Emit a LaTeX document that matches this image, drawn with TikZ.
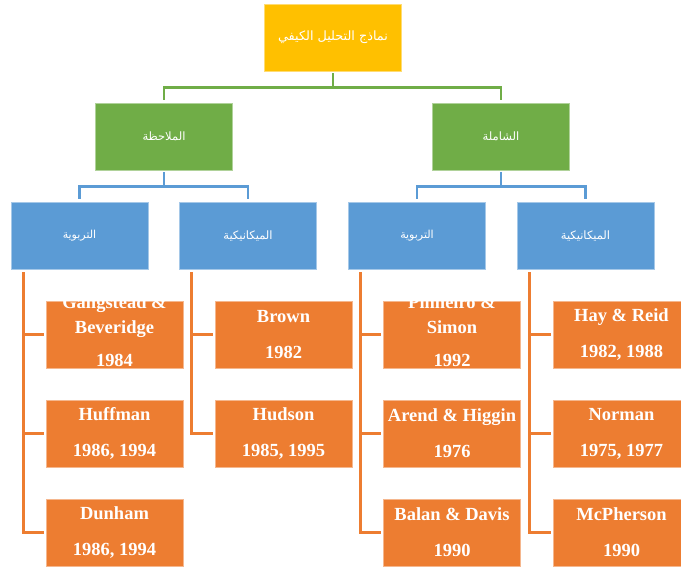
\documentclass[tikz,border=0pt]{standalone}
\usepackage{fontspec}
\setmainfont{Liberation Serif}
\newfontfamily\arabicfont[Script=Arabic]{DejaVu Sans}
\TeXXeTstate=1
\definecolor{cTop}{HTML}{FFC000}
\definecolor{cGreen}{HTML}{70AD47}
\definecolor{cBlue}{HTML}{5B9BD5}
\definecolor{cOrange}{HTML}{ED7D31}
\begin{document}
\begin{tikzpicture}[x=1pt,y=-1pt,
  boxbase/.style={rectangle, minimum width=137pt, minimum height=67pt, inner sep=0pt, line width=0.6pt, text=white},
  topbox/.style={boxbase, fill=cTop, draw=cTop!55!white, font=\arabicfont\fontsize{12.8}{15}\selectfont},
  greenbox/.style={boxbase, fill=cGreen, draw=cGreen!55!white, font=\arabicfont\fontsize{11.5}{14}\selectfont},
  bluebox/.style={boxbase, fill=cBlue, draw=cBlue!55!white, font=\arabicfont\fontsize{11.5}{14}\selectfont},
  orangebox/.style={boxbase, fill=cOrange, draw=cOrange!55!white},
  otext/.style={text=white, align=center, inner sep=0pt, font=\bfseries\fontsize{18.5}{25}\selectfont},
  gline/.style={draw=cGreen, line width=2.6pt},
  bline/.style={draw=cBlue, line width=2.6pt},
  oline/.style={draw=cOrange, line width=2.6pt}]
\useasboundingbox (0,0) rectangle (681,569);
\clip (0,0) rectangle (681,569);

% top
\node[topbox] (root) at (333,37.5) {\beginR نماذج التحليل الكيفي\endR};
% green
\node[greenbox] (g1) at (164,136.5) {\beginR الملاحظة\endR};
\node[greenbox] (g2) at (501,136.5) {\beginR الشاملة\endR};
% blue
\node[bluebox, font=\arabicfont\fontsize{11}{14}\selectfont] (b1) at (79.5,235.5) {\beginR التربوية\endR};
\node[bluebox] (b2) at (248,235.5) {\beginR الميكانيكية\endR};
\node[bluebox, font=\arabicfont\fontsize{11}{14}\selectfont] (b3) at (417,235.5) {\beginR التربوية\endR};
\node[bluebox] (b4) at (585.5,235.5) {\beginR الميكانيكية\endR};

% orange boxes
\foreach \c/\x in {1/114.5, 3/452, 4/621.5}{
  \foreach \r/\y in {1/334.5, 2/433.5, 3/532.5}{
    \node[orangebox] (o\c\r) at (\x,\y) {};
  }
}
\node[orangebox] (o21) at (283.5,334.5) {};
\node[orangebox] (o22) at (283.5,433.5) {};

% orange texts
\node[otext] (t11) at ([yshift=3pt]o11.center) {Gangstead \&\\Beveridge\\[8pt]1984};
\node[otext] (t12) at (o12) {Huffman\\[11pt]1986, 1994};
\node[otext] (t13) at (o13) {Dunham\\[11pt]1986, 1994};
\node[otext] (t21) at (o21) {Brown\\[11pt]1982};
\node[otext] (t22) at (o22) {Hudson\\[11pt]1985, 1995};
\node[otext] (t31) at ([yshift=3pt]o31.center) {Pinheiro \&\\Simon\\[8pt]1992};
\node[otext] (t32) at (o32) {Arend \& Higgin\\[11pt]1976};
\node[otext] (t33) at (o33) {Balan \& Davis\\[11pt]1990};
\node[otext] (t41) at (o41) {Hay \& Reid\\[11pt]1982, 1988};
\node[otext] (t42) at (o42) {Norman\\[11pt]1975, 1977};
\node[otext] (t43) at (o43) {McPherson\\[11pt]1990};

% green connectors
\draw[gline] ([yshift=-2pt]root.south) -- ++(0,14) -| ([yshift=3pt]g1.north);
\draw[gline] ([yshift=-2pt]root.south) -- ++(0,14) -| ([yshift=3pt]g2.north);
% blue connectors
\draw[bline] ([yshift=-2pt]g1.south) -- ++(0,14) -| ([yshift=3pt]b1.north);
\draw[bline] ([yshift=-2pt]g1.south) -- ++(0,14) -| ([yshift=3pt]b2.north);
\draw[bline] ([yshift=-2pt]g2.south) -- ++(0,14) -| ([yshift=3pt]b3.north);
\draw[bline] ([yshift=-2pt]g2.south) -- ++(0,14) -| ([yshift=3pt]b4.north);
% orange connectors
\draw[oline] ([xshift=12.5pt,yshift=-3pt]b1.south west) |- ([xshift=-2pt]o13.west);
\draw[oline] ([xshift=12.5pt]b1.south west |- o11.west) -- ([xshift=-2pt]o11.west);
\draw[oline] ([xshift=12.5pt]b1.south west |- o12.west) -- ([xshift=-2pt]o12.west);
\draw[oline] ([xshift=12.5pt,yshift=-3pt]b2.south west) |- ([xshift=-2pt]o22.west);
\draw[oline] ([xshift=12.5pt]b2.south west |- o21.west) -- ([xshift=-2pt]o21.west);
\draw[oline] ([xshift=12.5pt,yshift=-3pt]b3.south west) |- ([xshift=-2pt]o33.west);
\draw[oline] ([xshift=12.5pt]b3.south west |- o31.west) -- ([xshift=-2pt]o31.west);
\draw[oline] ([xshift=12.5pt]b3.south west |- o32.west) -- ([xshift=-2pt]o32.west);
\draw[oline] ([xshift=12.5pt,yshift=-3pt]b4.south west) |- ([xshift=-2pt]o43.west);
\draw[oline] ([xshift=12.5pt]b4.south west |- o41.west) -- ([xshift=-2pt]o41.west);
\draw[oline] ([xshift=12.5pt]b4.south west |- o42.west) -- ([xshift=-2pt]o42.west);
\end{tikzpicture}
\end{document}
